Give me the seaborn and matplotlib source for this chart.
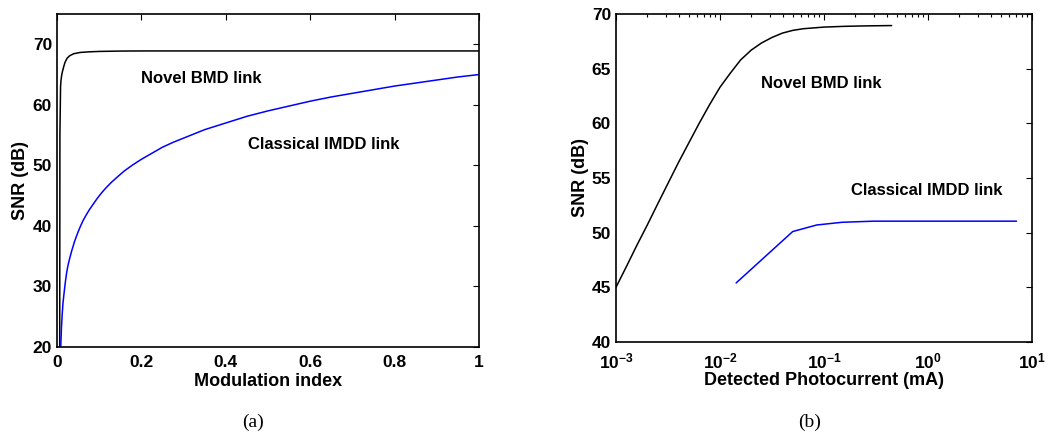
import numpy as np
import pandas as pd
import seaborn as sns
import matplotlib.pyplot as plt

# ---------------------------------------------------------------
# data
# ---------------------------------------------------------------
# (a) SNR vs modulation index
mod_bmd = [0.0065, 0.007, 0.0085, 0.0095, 0.011, 0.013, 0.016, 0.019, 0.024, 0.03,
           0.04, 0.055, 0.075, 0.1, 0.15, 0.2, 1.0]
snr_bmd_a = [20, 55, 63, 64, 64.8, 65.5, 66.3, 67.0, 67.7, 68.1,
             68.45, 68.65, 68.75, 68.82, 68.88, 68.9, 68.9]

mod_imdd = [0.009, 0.0105, 0.0125, 0.0143, 0.017, 0.02, 0.023, 0.0262, 0.03, 0.035,
            0.042, 0.05, 0.056, 0.062, 0.07, 0.078, 0.086, 0.095, 0.105, 0.115,
            0.129, 0.145, 0.16, 0.18, 0.2, 0.225, 0.25, 0.275, 0.3, 0.35,
            0.4, 0.45, 0.5, 0.55, 0.6, 0.65, 0.7, 0.75, 0.8, 0.85, 0.9, 0.95, 1.0]
snr_imdd_a = [20, 23, 25.5, 27.3, 29, 30.8, 32.3, 33.5, 34.6, 35.9,
              37.5, 39, 40, 40.9, 41.9, 42.8, 43.6, 44.5, 45.4, 46.2,
              47.2, 48.2, 49.1, 50.1, 51, 52, 53, 53.8, 54.5, 55.9,
              57.0, 58.1, 59, 59.8, 60.6, 61.3, 61.9, 62.5, 63.1, 63.6, 64.1, 64.6, 65.0]

# (b) SNR vs detected photocurrent (mA)
cur_bmd = [1e-3, 1.26e-3, 1.58e-3, 2e-3, 2.51e-3, 3.16e-3, 3.98e-3, 5.01e-3, 6.31e-3, 7.94e-3,
           1e-2, 1.26e-2, 1.58e-2, 2e-2, 2.51e-2, 3.16e-2, 3.98e-2, 5.01e-2, 6.31e-2,
           0.1, 0.158, 0.251, 0.447]
snr_bmd_b = [45.0, 46.9, 48.8, 50.7, 52.6, 54.5, 56.4, 58.2, 60.0, 61.7,
             63.3, 64.6, 65.8, 66.7, 67.35, 67.85, 68.25, 68.5, 68.65,
             68.8, 68.87, 68.91, 68.94]

cur_imdd = [0.0143, 0.05, 0.085, 0.15, 0.3, 1.0, 7.1]
snr_imdd_b = [45.4, 50.1, 50.7, 50.95, 51.05, 51.05, 51.05]

# ---------------------------------------------------------------
sns.set_style("white")
plt.rcParams['font.family'] = ['Liberation Sans', 'DejaVu Sans']
plt.rcParams['font.weight'] = 'bold'
plt.rcParams['mathtext.default'] = 'bf'
plt.rcParams['text.color'] = 'k'
plt.rcParams['axes.labelcolor'] = 'k'

fig = plt.figure(figsize=(10.49, 4.34), dpi=100)
ax1 = fig.add_axes([0.0543, 0.2005, 0.4023, 0.7672])
ax2 = fig.add_axes([0.5872, 0.2120, 0.3966, 0.7558])

tick_kw = dict(direction='in', top=True, right=True, length=4, width=0.8,
               labelsize=12.5, colors='k')

# ----- (a)
sns.lineplot(x=mod_bmd, y=snr_bmd_a, color='k', lw=1.1, ax=ax1, sort=False, estimator=None)
sns.lineplot(x=mod_imdd, y=snr_imdd_a, color='#0000ff', lw=1.1, ax=ax1, sort=False, estimator=None)
ax1.set_xlim(0, 1)
ax1.set_ylim(20, 75)
ax1.set_xticks([0, 0.2, 0.4, 0.6, 0.8, 1])
ax1.set_xticklabels(['0', '0.2', '0.4', '0.6', '0.8', '1'])
ax1.set_yticks([20, 30, 40, 50, 60, 70])
ax1.tick_params(which='both', **tick_kw)
ax1.tick_params(axis='x', pad=6)
ax1.set_xlabel('Modulation index', fontsize=13, fontweight='bold', labelpad=2)
ax1.set_ylabel('SNR (dB)', fontsize=13, fontweight='bold', labelpad=3)
ax1.text(0.2, 64.4, 'Novel BMD link', fontsize=12, fontweight='bold', va='center')
ax1.text(0.453, 53.5, 'Classical IMDD link', fontsize=12, fontweight='bold', va='center')

# ----- (b)
sns.lineplot(x=cur_bmd, y=snr_bmd_b, color='k', lw=1.1, ax=ax2, sort=False, estimator=None)
sns.lineplot(x=cur_imdd, y=snr_imdd_b, color='#0000ff', lw=1.1, ax=ax2, sort=False, estimator=None)
ax2.set_xscale('log')
ax2.set_xlim(1e-3, 10)
ax2.set_ylim(40, 70)
ax2.set_yticks([40, 45, 50, 55, 60, 65, 70])
ax2.tick_params(which='both', **tick_kw)
ax2.tick_params(which='minor', length=2.5)
ax2.tick_params(axis='x', pad=7)
ax2.set_xlabel('Detected Photocurrent (mA)', fontsize=13, fontweight='bold', labelpad=0)
ax2.set_ylabel('SNR (dB)', fontsize=13, fontweight='bold', labelpad=2)
ax2.text(0.0246, 63.6, 'Novel BMD link', fontsize=12, fontweight='bold', va='center')
ax2.text(0.182, 53.9, 'Classical IMDD link', fontsize=12, fontweight='bold', va='center')

for ax in (ax1, ax2):
    for sp in ax.spines.values():
        sp.set_visible(True)
        sp.set_linewidth(1.2)
        sp.set_color('k')
    for lab in ax.get_xticklabels() + ax.get_yticklabels():
        lab.set_fontweight('bold')

fig.text(253 / 1049, 1 - 422 / 434, '(a)', fontsize=14, family='Liberation Serif',
         fontweight='normal', ha='center', va='center')
fig.text(810 / 1049, 1 - 422 / 434, '(b)', fontsize=14, family='Liberation Serif',
         fontweight='normal', ha='center', va='center')

fig.savefig('out.png', dpi=100)
